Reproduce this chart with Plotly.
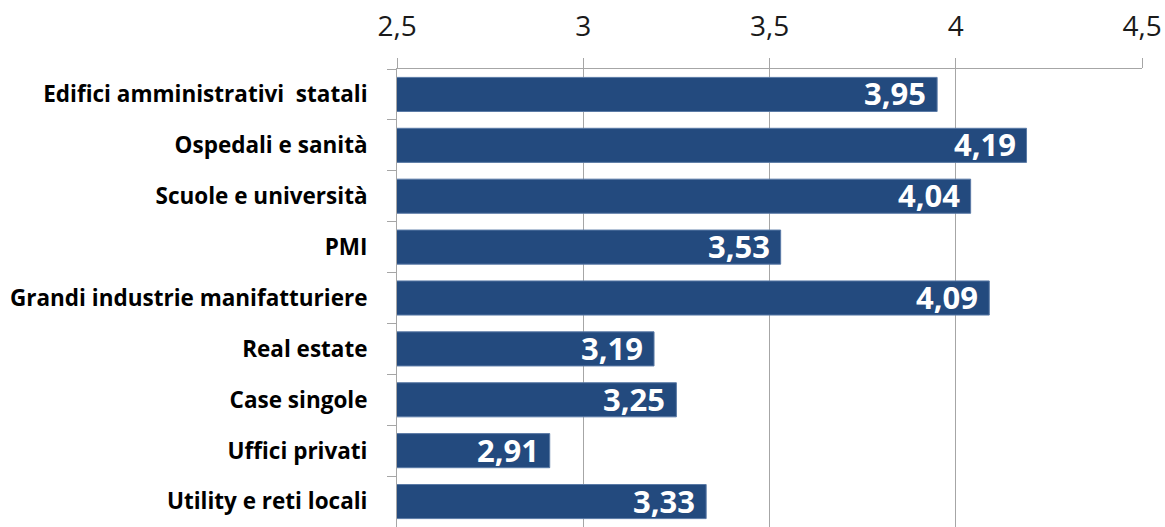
import plotly.graph_objects as go

categories = [
    "Edifici amministrativi  statali",
    "Ospedali e sanità",
    "Scuole e università",
    "PMI",
    "Grandi industrie manifatturiere",
    "Real estate",
    "Case singole",
    "Uffici privati",
    "Utility e reti locali",
]
values = [3.95, 4.19, 4.04, 3.53, 4.09, 3.19, 3.25, 2.91, 3.33]
tick_vals = [2.5, 3, 3.5, 4, 4.5]
tick_text = ["2,5", "3", "3,5", "4", "4,5"]

# value labels with comma decimals
labels = [f"{v:.2f}".replace(".", ",") for v in values]

FONT = "Open Sans"

fig = go.Figure(
    go.Bar(
        y=categories,
        x=values,
        orientation="h",
        marker=dict(color="#234A7E", line=dict(color="#5A7AA6", width=1)),
        cliponaxis=True,
        hoverinfo="skip",
    )
)

# labels sit just inside the end of each bar
for cat, v, lab in zip(categories, values, labels):
    fig.add_annotation(
        x=v,
        y=cat,
        xref="x",
        yref="y",
        text=f"<b>{lab}</b>",
        showarrow=False,
        xanchor="right",
        yanchor="middle",
        xshift=-9,
        yshift=1,
        font=dict(family=FONT, size=31, color="white"),
    )

grid = "#A6A6A6"
fig.update_layout(
    width=1165,
    height=527,
    margin=dict(l=397, r=23, t=69, b=0),
    paper_bgcolor="white",
    plot_bgcolor="white",
    bargap=0.33,
    showlegend=False,
    font=dict(family=FONT, color="black"),
    xaxis=dict(
        side="top",
        range=[2.5, 4.5],
        tickvals=tick_vals,
        ticktext=tick_text,
        tickfont=dict(family=FONT, size=28, color="#1a1a1a"),
        showgrid=True,
        gridcolor=grid,
        gridwidth=1,
        showline=True,
        linecolor=grid,
        linewidth=1,
        ticks="outside",
        ticklen=10,
        tickcolor=grid,
        ticklabelstandoff=11,
        zeroline=False,
        fixedrange=True,
    ),
    yaxis=dict(
        autorange="reversed",
        tickfont=dict(family=FONT, size=22.5, color="black", weight="bold"),
        showline=True,
        linecolor=grid,
        linewidth=1,
        ticks="outside",
        tickson="boundaries",
        ticklen=9,
        tickcolor=grid,
        ticklabelstandoff=24,
        showgrid=False,
        fixedrange=True,
    ),
)

fig.write_html("out.html")
